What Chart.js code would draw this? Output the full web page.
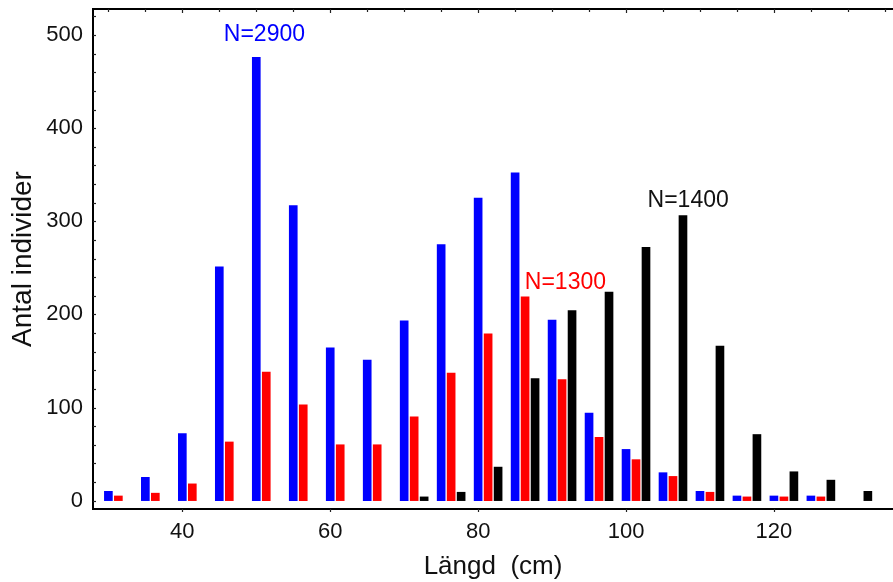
<!DOCTYPE html>
<html>
<head>
<meta charset="utf-8">
<script src="https://cdn.jsdelivr.net/npm/chart.js@4.4.1/dist/chart.umd.min.js"></script>
<style>
html,body{margin:0;padding:0;background:#fff;}
#wrap{width:893px;height:582px;position:relative;}
</style>
</head>
<body>
<div id="wrap"><canvas id="c" width="893" height="582"></canvas></div>
<script>
// ---- data ----
const lengths     = [30, 35, 40, 45, 50, 55, 60, 65, 70, 75, 80, 85, 90, 95, 100, 105, 110, 115, 120, 125, 130];
const blueCounts  = [10, 25, 72, 251, 476, 317, 164, 151, 193, 275, 325, 352, 194, 94, 55, 30, 10, 5, 5, 5, null];
const redCounts   = [5, 8, 18, 63, 138, 103, 60, 60, 90, 137, 179, 219, 130, 68, 44, 26, 9, 4, 4, 4, null];
const blackCounts = [null, null, null, null, null, null, null, null, 4, 9, 36, 131, 204, 224, 272, 306, 166, 71, 31, 22, 10];
const seriesNames = ['N=2900', 'N=1300', 'N=1400'];
const xTickValues = [40, 60, 80, 100, 120];
const yTickValues = [0, 100, 200, 300, 400, 500];
const xTitle = 'Längd  (cm)';
const yTitle = 'Antal individer';

// ---- styling / placement (not data) ----
const seriesColors  = ['#0000FF', '#FF0000', '#000000'];
const seriesOffsets = [0, 1.35, 2.7];           // x-shift of each series within a bin (cm)
const labelAnchors  = [[51.1, 500], [91.8, 234], [108.4, 322]]; // where N= labels sit (data units)
const FONT = '"Liberation Sans", Arial, sans-serif';

function toPoints(counts, offset) {
  const pts = [];
  lengths.forEach((L, i) => { if (counts[i] !== null) pts.push({ x: L + offset, y: counts[i] }); });
  return pts;
}
const allCounts = [blueCounts, redCounts, blackCounts];

const datasets = allCounts.map((counts, k) => ({
  label: seriesNames[k],
  data: toPoints(counts, seriesOffsets[k]),
  backgroundColor: seriesColors[k],
  borderWidth: 0,
  grouped: false,
  barThickness: 8,
  maxBarThickness: 8,
  barPercentage: 1,
  categoryPercentage: 1
}));

const decorations = {
  id: 'decorations',
  afterDraw(chart) {
    const { ctx, chartArea: a, scales: { x, y } } = chart;
    ctx.save();
    ctx.strokeStyle = '#000';
    // top frame line
    ctx.lineWidth = 2;
    ctx.beginPath();
    ctx.moveTo(a.left - 1, a.top);
    ctx.lineTo(a.right, a.top);
    ctx.stroke();
    ctx.lineWidth = 1.2;
    ctx.strokeStyle = '#222';
    // top inward ticks every 5
    for (let v = 30; v <= x.max; v += 5) {
      const px = Math.round(x.getPixelForValue(v)) + 0.5;
      const len = (v % 20 === 0) ? 4 : 3;
      ctx.beginPath(); ctx.moveTo(px, a.top); ctx.lineTo(px, a.top + len); ctx.stroke();
    }
    // left inward ticks every 20
    for (let v = 0; v <= y.max; v += 20) {
      const py = Math.round(y.getPixelForValue(v)) + 0.5;
      ctx.beginPath(); ctx.moveTo(a.left, py); ctx.lineTo(a.left + 3, py); ctx.stroke();
    }
    // bottom small ticks at labelled values
    xTickValues.forEach(v => {
      const px = Math.round(x.getPixelForValue(v)) + 0.5;
      ctx.beginPath(); ctx.moveTo(px, a.bottom); ctx.lineTo(px, a.bottom + 3); ctx.stroke();
    });
    // series labels
    ctx.font = '23px ' + FONT;
    ctx.textAlign = 'center';
    ctx.textBaseline = 'middle';
    labelAnchors.forEach((p, k) => {
      ctx.fillStyle = seriesColors[k] === '#000000' ? '#111' : seriesColors[k];
      ctx.fillText(seriesNames[k], x.getPixelForValue(p[0]), y.getPixelForValue(p[1]));
    });
    ctx.restore();
  }
};

new Chart(document.getElementById('c'), {
  type: 'bar',
  data: { datasets },
  options: {
    responsive: false,
    animation: false,
    devicePixelRatio: 1,
    layout: { padding: { top: 9, right: 0, bottom: 0, left: 0 }, autoPadding: false },
    plugins: { legend: { display: false }, tooltip: { enabled: false } },
    scales: {
      x: {
        type: 'linear',
        min: 27.92,
        max: 136.1,
        offset: false,
        grid: { display: false, drawTicks: false, offset: false },
        border: { display: true, color: '#000', width: 2 },
        afterBuildTicks: s => { s.ticks = xTickValues.map(v => ({ value: v })); },
        afterFit: s => { s.height = 73; s.paddingLeft = 0; s.paddingRight = 0; },
        ticks: { color: '#111', font: { size: 22, family: FONT }, padding: 10, maxRotation: 0, autoSkip: false },
        title: { display: true, text: xTitle, color: '#111', font: { size: 26, family: FONT }, padding: { top: 0, bottom: 0 } }
      },
      y: {
        type: 'linear',
        min: -9,
        max: 528,
        grid: { display: false, drawTicks: false },
        border: { display: true, color: '#000', width: 2 },
        afterBuildTicks: s => { s.ticks = yTickValues.map(v => ({ value: v })); },
        afterFit: s => { s.width = 93; s.paddingTop = 0; s.paddingBottom = 0; },
        ticks: { color: '#111', font: { size: 22, family: FONT }, padding: 10 },
        title: { display: true, text: yTitle, color: '#111', font: { size: 28, family: FONT }, padding: { top: 6, bottom: 0 } }
      }
    }
  },
  plugins: [decorations]
});
</script>
</body>
</html>
